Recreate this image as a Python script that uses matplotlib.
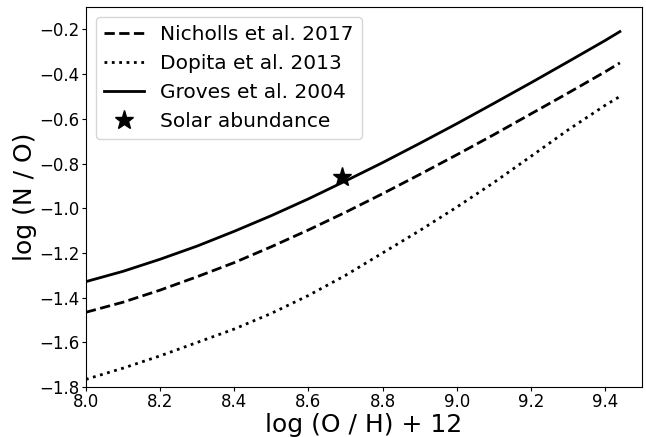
import numpy as np
import matplotlib.pyplot as plt

# x = log(O/H) + 12
oh = [8.0, 8.1, 8.2, 8.3, 8.4, 8.5, 8.6, 8.7, 8.8, 8.9, 9.0, 9.1, 9.2, 9.3, 9.4, 9.44]

# log(N/O)
nicholls = [-1.465, -1.420, -1.366, -1.306, -1.243, -1.172, -1.097, -1.018, -0.935,
            -0.849, -0.761, -0.671, -0.578, -0.485, -0.390, -0.350]
dopita = [-1.765, -1.715, -1.660, -1.600, -1.540, -1.470, -1.390, -1.300, -1.200,
          -1.100, -0.995, -0.885, -0.768, -0.650, -0.540, -0.500]
groves = [-1.328, -1.282, -1.228, -1.169, -1.103, -1.033, -0.958, -0.878, -0.796,
          -0.710, -0.622, -0.531, -0.439, -0.345, -0.250, -0.210]

solar_oh = 8.69
solar_no = -0.86

fig = plt.figure(figsize=(6.46, 4.37), dpi=100)
ax = fig.add_axes([0.133, 0.114, 0.861, 0.870])

ax.plot(oh, nicholls, "k--", lw=2, label="Nicholls et al. 2017")
ax.plot(oh, dopita, "k:", lw=2, label="Dopita et al. 2013")
ax.plot(oh, groves, "k-", lw=2, label="Groves et al. 2004")
ax.plot(solar_oh, solar_no, "k*", ms=14, ls="none", label="Solar abundance")

ax.set_xlim(8.0, 9.5)
ax.set_ylim(-1.8, -0.1)
ax.set_xticks([8.0, 8.2, 8.4, 8.6, 8.8, 9.0, 9.2, 9.4])
ax.set_yticks([-1.8, -1.6, -1.4, -1.2, -1.0, -0.8, -0.6, -0.4, -0.2])
ax.tick_params(labelsize=12, length=3, pad=1.5)

ax.set_xlabel("log (O / H) + 12", fontsize=18, labelpad=1)
ax.set_ylabel("log (N / O)", fontsize=18, labelpad=2)

ax.legend(loc="upper left", fontsize=14.5)

plt.savefig("out.png", dpi=100)
plt.close()
